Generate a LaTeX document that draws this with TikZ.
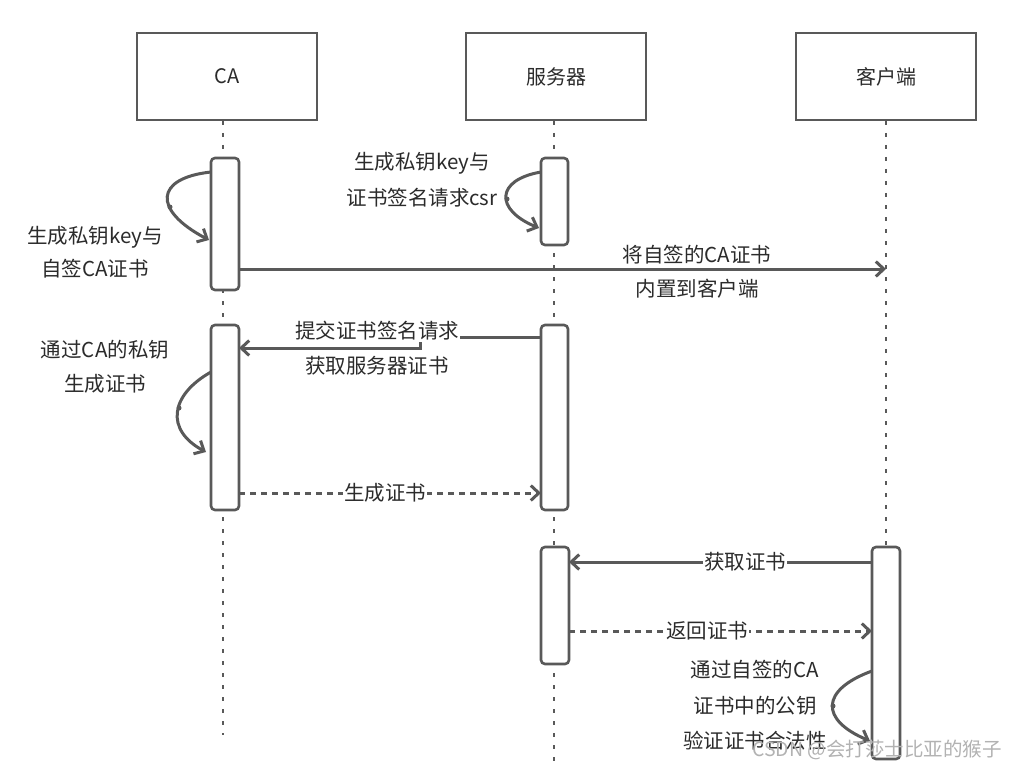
\documentclass[tikz,border=0pt]{standalone}
\usepackage{fontspec}
\newfontfamily\cjk{Noto Sans CJK SC}
\usetikzlibrary{arrows.meta}
\definecolor{ln}{HTML}{595959}
\definecolor{tx}{HTML}{2b2b2b}
\tikzset{
  head/.style={draw=ln, line width=2.6pt, fill=white, minimum width=180pt, minimum height=87pt, font=\cjk\fontsize{20}{20}\selectfont, text=tx},
  act/.style={draw=ln, line width=2.6pt, fill=white, rounded corners=4pt},
  life/.style={draw=ln, line width=2.6pt, dash pattern=on 4pt off 8pt},
  msg/.style={draw=ln, line width=3pt, -{Straight Barb[length=8pt,width=15pt,line width=3pt]}},
  dmsg/.style={msg, dash pattern=on 6pt off 5pt},
  lbl/.style={font=\cjk\fontsize{20.5}{20.5}\selectfont, text=tx, fill=white, inner sep=1pt},
  txt/.style={font=\cjk\fontsize{20.5}{20.5}\selectfont, text=tx, inner sep=1pt},
  wp/.style={circle, fill=ln, inner sep=0pt, minimum size=5pt}
}
\begin{document}
\begin{tikzpicture}[x=1pt, y=-1pt]
\useasboundingbox (0,0) rectangle (1019,770);
\fill[white] (0,0) rectangle (1019,770);
% headers
\node[head] (ca) at (227,76.5) {CA};
\node[head] (sv) at (556,76.5) {服务器};
\node[head] (cl) at (886,76.5) {客户端};
% lifeline ends
\coordinate (caE) at (223,735);
\coordinate (svE) at (554,762);
\coordinate (clE) at (886,547);
\draw[life] (223,121) -- (caE);
\draw[life] (554,121) -- (svE);
\draw[life] (886,121) -- (clE);
% activations
\draw[act] (211,158) rectangle (239,290);
\draw[act] (541,158) rectangle (568,245);
\draw[act] (211,325) rectangle (239,510);
\draw[act] (541,325) rectangle (568,510);
\draw[act] (541,547) rectangle (569,664);
\draw[act] (872,547) rectangle (900,759);
\coordinate (a1) at (239,269);
\coordinate (c1) at (886,269);
\coordinate (s2) at (541,337);
\coordinate (s2b) at (420,337);
\coordinate (s2c) at (420,348);
\coordinate (a2) at (239,348);
\coordinate (a3) at (239,493);
\coordinate (s3) at (541,493);
\coordinate (c4) at (872,562);
\coordinate (s4) at (569,562);
\coordinate (s5) at (569,631);
\coordinate (c5) at (872,631);
% messages
\draw[msg] (a1) -- (c1);
\node[lbl] (m1a) at (697,255) {将自签的CA证书};
\node[lbl] (m1b) at (697,289) {内置到客户端};
\draw[msg] (s2) -- (s2b) -- (s2c) -- (a2);
\node[lbl] (m2a) at (377,331) {提交证书签名请求};
\node[lbl] (m2b) at (377,366) {获取服务器证书};
\draw[dmsg] (a3) -- (s3);
\node[lbl] (m3) at (385,493) {生成证书};
\draw[msg] (c4) -- (s4);
\node[lbl] (m4) at (745,562) {获取证书};
\draw[dmsg] (s5) -- (c5);
\node[lbl] (m5) at (707,631) {返回证书};
% self loops
\draw[msg] (211,172) .. controls (155,178) and (152,210) .. (209,240);
\node[wp] (d1) at (170,207) {};
\node[txt] (l1a) at (95,237) {生成私钥key与};
\node[txt] (l1b) at (95,269) {自签CA证书};
\draw[msg] (541,172) .. controls (495,180) and (495,210) .. (539,228);
\node[wp] (d2) at (507,199) {};
\node[txt] (l2a) at (422,163) {生成私钥key与};
\node[txt] (l2b) at (422,198) {证书签名请求csr};
\draw[msg] (211,372) .. controls (170,395) and (165,430) .. (206,452);
\node[wp] (d3) at (179,408) {};
\node[txt] (l3a) at (105,350) {通过CA的私钥};
\node[txt] (l3b) at (105,384) {生成证书};
\draw[msg] (872,671) .. controls (820,690) and (820,720) .. (870,741);
\node[wp] (d4) at (833,706) {};
\node[txt] (l4a) at (755,670) {通过自签的CA};
\node[txt] (l4b) at (755,706) {证书中的公钥};
\node[txt] (l4c) at (755,741) {验证证书合法性};
% watermark
\node[font=\cjk\fontsize{19.5}{19.5}\selectfont, text=black!30, inner sep=0pt, anchor=west] (wm) at (752,750) {CSDN @会打莎士比亚的猴子};
\end{tikzpicture}
\end{document}
